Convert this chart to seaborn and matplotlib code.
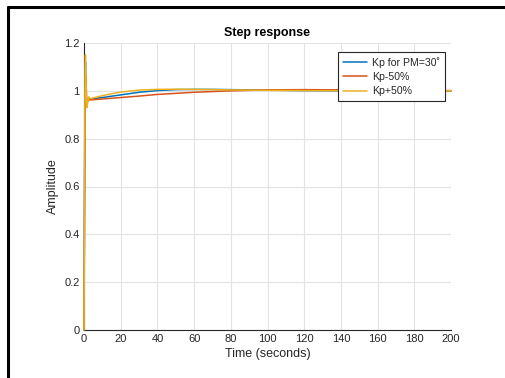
import numpy as np
import pandas as pd
import matplotlib
matplotlib.use("Agg")
import matplotlib.pyplot as plt
from matplotlib.lines import Line2D
import seaborn as sns

# Step response samples (time in seconds, amplitude)
t_nominal = [0, 0.2, 0.4, 0.6, 0.8, 1.0, 1.2, 1.5, 2, 3, 5, 10, 20, 30, 40, 50, 60, 70, 80, 100, 120, 150, 200]
y_nominal = [0, 0.45, 0.85, 1.08, 1.12, 1.02, 0.95, 0.94, 0.965, 0.966, 0.967, 0.972, 0.983, 0.994, 1.001, 1.005, 1.006, 1.006, 1.005, 1.003, 1.001, 1.0, 1.0]

t_low = [0, 0.3, 0.6, 0.9, 1.2, 1.5, 2, 2.5, 3, 5, 10, 20, 30, 40, 60, 80, 100, 120, 140, 160, 200]
y_low = [0, 0.5, 0.9, 1.06, 1.02, 0.96, 0.955, 0.962, 0.962, 0.963, 0.966, 0.972, 0.978, 0.985, 0.994, 1.0, 1.004, 1.005, 1.004, 1.003, 1.001]

t_high = [0, 0.3, 0.6, 0.8, 1.0, 1.3, 1.6, 2.0, 2.5, 3, 5, 10, 20, 30, 40, 50, 60, 80, 100, 120, 150, 200]
y_high = [0, 0.6, 1.1, 1.15, 1.1, 0.98, 0.93, 0.95, 0.975, 0.967, 0.97, 0.98, 0.995, 1.003, 1.006, 1.007, 1.006, 1.004, 1.002, 1.001, 1.0, 1.0]

labels = ["Kp for PM=30\u02da", "Kp-50%", "Kp+50%"]
colors = ["#0072BD", "#D95319", "#EDB120"]

df = pd.concat([
    pd.DataFrame({"Time": t_nominal, "Amplitude": y_nominal, "Gain": labels[0]}),
    pd.DataFrame({"Time": t_low, "Amplitude": y_low, "Gain": labels[1]}),
    pd.DataFrame({"Time": t_high, "Amplitude": y_high, "Gain": labels[2]}),
], ignore_index=True)

sns.set_style("white")
plt.rcParams["font.family"] = ["Liberation Sans", "DejaVu Sans"]

fig = plt.figure(figsize=(5.05, 3.78), dpi=100)
ax = fig.add_axes([84 / 505, 1 - 330 / 378, (451 - 84) / 505, (330 - 43) / 378])

sns.lineplot(data=df, x="Time", y="Amplitude", hue="Gain", hue_order=labels,
             palette=colors, linewidth=1.1, estimator=None, sort=False, ax=ax)
for line in ax.get_lines():
    line.set_zorder(3)
    line.set_clip_on(False)

ax.set_xlim(0, 200)
ax.set_ylim(0, 1.2)
ax.set_xticks(np.arange(0, 201, 20))
ax.set_yticks([0, 0.2, 0.4, 0.6, 0.8, 1.0, 1.2])
ax.set_yticklabels(["0", "0.2", "0.4", "0.6", "0.8", "1", "1.2"])
ax.grid(True, color="#e3e3e3", linewidth=0.8)
ax.set_axisbelow(True)
for side in ["top", "right"]:
    ax.spines[side].set_visible(False)
for side in ["left", "bottom"]:
    ax.spines[side].set_color("#262626")
    ax.spines[side].set_linewidth(0.8)
    ax.spines[side].set_zorder(2.6)
ax.tick_params(direction="in", length=3, width=0.8, colors="#262626",
               labelsize=8, labelcolor="#262626", pad=3)

ax.set_title("Step response", fontsize=9, fontweight="bold", pad=5, color="black")
ax.set_xlabel("Time (seconds)", fontsize=9, color="#262626", labelpad=3)
ax.set_ylabel("Amplitude", fontsize=9, color="#262626", labelpad=4)

leg = ax.legend(loc="upper left", bbox_to_anchor=((338 - 84) / 367, (330 - 52) / 287),
                fontsize=7.6, frameon=True, fancybox=False, framealpha=1,
                edgecolor="#262626", handlelength=2.3, handletextpad=0.5,
                borderpad=0.45, labelspacing=0.42, borderaxespad=0)
leg.get_frame().set_linewidth(0.8)
leg.set_zorder(5)

# window frame edges
fig.add_artist(Line2D([8 / 505, 1], [1 - 7 / 378, 1 - 7 / 378], color="black",
                      linewidth=2.2, transform=fig.transFigure))
fig.add_artist(Line2D([8 / 505, 8 / 505], [0, 1 - 7 / 378], color="black",
                      linewidth=2.2, transform=fig.transFigure))

fig.savefig("out.png", dpi=100)
